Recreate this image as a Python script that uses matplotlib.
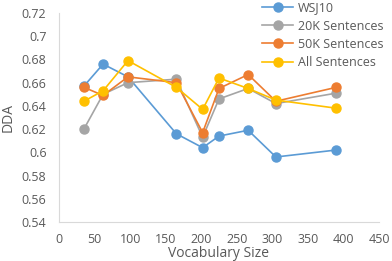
import matplotlib
matplotlib.use("Agg")
import matplotlib.pyplot as plt

vocab = [35, 62, 97, 165, 202, 225, 266, 305, 390]
wsj10 = [0.657, 0.676, 0.665, 0.616, 0.604, 0.614, 0.619, 0.596, 0.602]
sent20k = [0.620, 0.650, 0.660, 0.663, 0.613, 0.646, 0.655, 0.642, 0.651]
sent50k = [0.656, 0.649, 0.665, 0.660, 0.617, 0.655, 0.667, 0.644, 0.656]
sent_all = [0.644, 0.653, 0.679, 0.656, 0.637, 0.664, 0.655, 0.645, 0.638]

series = [
    ("WSJ10", wsj10, "#5B9BD5"),
    ("20K Sentences", sent20k, "#A5A5A5"),
    ("50K Sentences", sent50k, "#ED7D31"),
    ("All Sentences", sent_all, "#FFC000"),
]

plt.rcParams['font.family'] = ['Open Sans', 'DejaVu Sans']
text_col = "#595959"

fig = plt.figure(figsize=(3.92, 2.61), dpi=100)
ax = fig.add_axes([59 / 392, 1 - 222 / 261, (379 - 59) / 392, (222 - 13) / 261])

for name, vals, col in series:
    ax.plot(vocab, vals, color=col, marker="o", markersize=6.5, linewidth=1.2, label=name)

ax.set_xlim(0, 450)
ax.set_ylim(0.54, 0.72)
ax.set_xticks(range(0, 451, 50))
ax.set_yticks([0.54 + 0.02 * i for i in range(10)])
ax.set_yticklabels(["0.54", "0.56", "0.58", "0.6", "0.62", "0.64", "0.66", "0.68", "0.7", "0.72"])
ax.tick_params(length=0, labelsize=9, colors=text_col)
ax.tick_params(axis="y", pad=9)
ax.tick_params(axis="x", pad=8)
for s in ["top", "right"]:
    ax.spines[s].set_visible(False)
for s in ["left", "bottom"]:
    ax.spines[s].set_color("#D9D9D9")
ax.set_xlabel("Vocabulary Size", fontsize=10, color=text_col, labelpad=0)
ax.set_ylabel("DDA", fontsize=10, color=text_col, labelpad=4)

leg = ax.legend(loc="upper right", bbox_to_anchor=(1.05, 1.11), frameon=False, fontsize=9,
                labelcolor=text_col, handlelength=2.5, handletextpad=0.4, labelspacing=0.42)

fig.savefig("out.png", dpi=100)
